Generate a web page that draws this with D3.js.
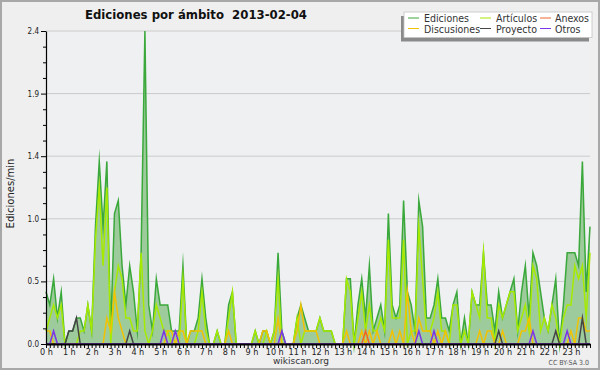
<!DOCTYPE html>
<html>
<head>
<meta charset="utf-8">
<script src="https://d3js.org/d3.v7.min.js"></script>
<style>
  body { margin: 0; background: #efefef; }
  svg text { font-family: "DejaVu Sans Condensed", "DejaVu Sans", sans-serif; font-stretch: condensed; }
</style>
</head>
<body>
<div id="chart"></div>
<script>
// one value per 10 minutes, from 0 h to 23 h 50 (edits per minute)
var stepMinutes = 10;

var ediciones = [
  0.4,0.3,0.5,0.2,0.4,0,0.1,0.1,0.2,0.2,0.1,0.3, 0.1,0.9,1.4,0.9,1.4,0.1,1.0,1.1,0.6,0.3,0.6,0.4,
  0.1,0.7,2.4,0.3,0.1,0.5,0.3,0.3,0.3,0.1,0.1,0.1, 0.6,0,0.1,0.1,0.2,0.5,0.2,0,0,0.1,0,0,
  0.3,0.4,0,0,0,0,0,0.1,0,0.1,0.1,0, 0.1,0.7,0.1,0,0,0,0.2,0.3,0.2,0.1,0.1,0.1,
  0.2,0.1,0.1,0.1,0,0,0,0.5,0.5,0,0.3,0.5, 0.2,0.6,0.1,0.2,0.3,0.1,1.0,0.3,0.2,0.3,1.1,0.4,
  0.3,0.1,1.1,0.9,0.2,0.2,0.3,0.5,0.2,0.2,0.1,0.3, 0.4,0,0.2,0,0.4,0.3,0.3,0.7,0.3,0.3,0.1,0.4,
  0.2,0.3,0.4,0.5,0.1,0.4,0.6,0.2,0.7,0.6,0.4,0.2, 0.1,0.3,0.5,0,0.3,0.7,0.7,0.7,0.6,1.4,0.4,0.9
];
var articulos = [
  0.1,0.2,0.3,0.2,0.3,0,0,0,0,0.1,0.1,0.3, 0.1,0.8,1.2,0.6,1.2,0,0.4,0.6,0.5,0.2,0.2,0.1,
  0.1,0.7,0.1,0,0.1,0.3,0.2,0.1,0.1,0,0,0, 0.5,0,0,0,0.1,0.4,0.1,0,0,0.1,0,0,
  0.2,0.4,0,0,0,0,0,0.1,0,0,0.1,0, 0.1,0.5,0,0,0,0,0.2,0,0.1,0.1,0.1,0.1,
  0.2,0.1,0.1,0.1,0,0,0,0.5,0.4,0,0.2,0.4, 0.1,0.3,0.1,0.1,0.2,0.1,0.8,0.2,0.2,0.2,0.8,0,
  0.1,0.1,0.9,0.5,0.1,0.1,0.2,0.4,0.1,0.1,0,0.3, 0.3,0,0.1,0,0.4,0.3,0.2,0.7,0.2,0.2,0,0.3,
  0.2,0.3,0.4,0.4,0.1,0.2,0.3,0.1,0.6,0.5,0.1,0.2, 0.1,0.3,0.2,0,0.2,0.3,0.3,0.6,0.5,0.6,0.2,0.7
];
var discusiones = [
  0.1,0.1,0,0,0,0,0,0,0,0,0,0, 0,0,0,0,0.2,0.1,0.4,0.2,0.1,0,0,0,
  0,0,0,0,0,0,0,0,0.1,0.1,0,0.1, 0.1,0,0.1,0.1,0.1,0.1,0,0,0,0,0,0,
  0.1,0,0,0,0,0,0,0,0,0.1,0.1,0, 0,0.2,0,0,0,0,0.1,0.3,0.1,0.1,0.1,0.1,
  0,0,0,0,0,0,0,0.1,0,0,0,0.1, 0,0.1,0,0.1,0,0,0,0.1,0,0.1,0,0.4,
  0.1,0,0.2,0.1,0.1,0.1,0,0.1,0,0.1,0,0, 0,0,0,0,0,0,0.1,0,0.1,0.1,0,0,
  0.1,0,0,0,0,0.1,0.1,0.2,0,0,0,0, 0,0,0,0,0,0,0.1,0,0.2,0.2,0.1,0.1
];
var anexos = [
  0,0,0,0,0,0,0,0,0,0,0,0, 0,0,0,0,0,0,0,0,0,0,0,0,
  0,0,0,0,0,0,0,0,0,0,0,0, 0,0,0,0,0,0,0,0,0,0,0,0,
  0,0,0,0,0,0,0,0,0,0,0,0, 0,0,0,0,0,0,0,0,0,0,0,0,
  0,0,0,0,0,0,0,0,0,0,0,0, 0.1,0,0,0,0,0,0,0,0,0,0,0,
  0,0,0,0,0,0,0,0,0,0,0,0, 0,0,0,0,0,0,0,0,0,0,0,0,
  0,0,0,0,0,0,0,0,0,0,0,0, 0,0,0,0,0,0,0,0,0,0,0,0
];
var proyecto = [
  0,0,0,0,0,0,0.1,0.1,0.2,0,0,0, 0,0,0,0,0,0,0,0,0,0,0.1,0,
  0,0,0,0,0,0,0,0,0,0,0,0, 0,0,0,0,0,0,0,0,0,0,0,0,
  0,0,0,0,0,0,0,0,0,0,0,0, 0,0,0,0,0,0,0,0,0,0,0,0,
  0,0,0,0,0,0,0,0,0,0,0,0, 0,0,0,0,0,0,0,0,0,0,0,0,
  0,0,0,0,0,0,0,0,0,0,0,0, 0,0,0,0,0,0,0,0,0,0,0,0.1,
  0,0,0,0,0,0,0,0,0,0,0,0, 0,0,0.1,0,0,0,0,0,0,0.2,0,0
];
var otros = [
  0,0,0.1,0,0,0,0,0,0,0,0,0, 0,0,0,0,0,0,0,0,0,0,0,0,
  0,0,0,0,0,0,0,0.1,0,0,0.1,0, 0,0,0,0,0,0,0,0,0,0,0,0,
  0,0,0,0,0,0,0,0,0,0,0,0, 0,0,0.1,0,0,0,0,0,0,0,0,0,
  0,0,0,0,0,0,0,0,0,0,0,0, 0,0,0,0,0,0,0,0,0,0,0,0,
  0,0,0.1,0,0,0,0.1,0,0,0,0,0, 0,0,0,0,0,0,0,0,0,0,0,0,
  0,0,0,0,0,0,0,0,0.1,0,0,0, 0,0,0,0,0,0.1,0,0,0,0,0,0
];

var hourLabels = ["0 h","1 h","2 h","3 h","4 h","5 h","6 h","7 h","8 h","9 h","10 h","11 h",
                  "12 h","13 h","14 h","15 h","16 h","17 h","18 h","19 h","20 h","21 h","22 h","23 h"];
var yTicks = [0, 0.48, 0.96, 1.44, 1.92, 2.4];
var yTickLabels = ["0.0", "0.5", "1.0", "1.4", "1.9", "2.4"];

// legend rows, in the order they are drawn in the box
var legendRow1 = ["Ediciones", "Artículos", "Anexos"];
var legendRow2 = ["Discusiones", "Proyecto", "Otros"];

var colors = {
  "Ediciones": "#3aa83a",
  "Artículos": "#a6ea00",
  "Discusiones": "#f2c200",
  "Anexos": "#f0642a",
  "Proyecto": "#454545",
  "Otros": "#7a35e8"
};

// set the dimensions and margins of the graph
var margin = {top: 31, right: 10, bottom: 26, left: 46},
    width = 600 - margin.left - margin.right,
    height = 370 - margin.top - margin.bottom;

var svg = d3.select("#chart")
  .append("svg")
    .attr("width", 600)
    .attr("height", 370);

// background and frame
svg.append("rect")
  .attr("x", 1).attr("y", 1)
  .attr("width", 598).attr("height", 368)
  .attr("fill", "#efefef")
  .attr("stroke", "#a8a8a8")
  .attr("stroke-width", 2);

var g = svg.append("g")
  .attr("transform", "translate(" + margin.left + "," + margin.top + ")");

g.append("rect")
  .attr("width", width)
  .attr("height", height)
  .attr("fill", "#eef0f2");

var x = d3.scaleLinear()
  .domain([0, (ediciones.length - 1) * stepMinutes])
  .range([0, width]);

var y = d3.scaleLinear()
  .domain([0, 2.4])
  .range([height, 0]);

// horizontal grid lines
g.selectAll(".grid")
  .data(yTicks.slice(1))
  .enter().append("line")
    .attr("x1", 0).attr("x2", width)
    .attr("y1", function(d) { return y(d); })
    .attr("y2", function(d) { return y(d); })
    .attr("stroke", "#cbcbcb");

function toPoints(values) {
  return values.map(function(v, i) { return {t: i * stepMinutes, v: v}; });
}

var line = d3.line()
  .x(function(d) { return x(d.t); })
  .y(function(d) { return y(d.v); });

var area = d3.area()
  .x(function(d) { return x(d.t); })
  .y0(y(0))
  .y1(function(d) { return y(d.v); });

// filled area for all edits
g.append("path")
  .datum(toPoints(ediciones))
  .attr("fill", "#9ecb9c")
  .attr("d", area);

var drawOrder = [
  ["Ediciones", ediciones],
  ["Artículos", articulos],
  ["Discusiones", discusiones],
  ["Anexos", anexos],
  ["Proyecto", proyecto],
  ["Otros", otros]
];

drawOrder.forEach(function(s) {
  g.append("path")
    .datum(toPoints(s[1]))
    .attr("fill", "none")
    .attr("stroke", colors[s[0]])
    .attr("stroke-width", 1.5)
    .attr("stroke-linejoin", "miter")
    .attr("stroke-miterlimit", 20)
    .attr("d", line);
});

// Add X axis: small tick every 10 minutes, label every hour
var minuteTicks = ediciones.map(function(v, i) { return i * stepMinutes; });
var xMinor = g.append("g")
  .attr("transform", "translate(0," + height + ")")
  .call(d3.axisBottom(x).tickValues(minuteTicks).tickSize(4).tickSizeOuter(0).tickFormat(""));
xMinor.select(".domain").attr("stroke", "#000").attr("stroke-width", 2);
xMinor.selectAll(".tick line").attr("stroke", "#000");

var xLabels = g.append("g")
  .attr("transform", "translate(0," + height + ")")
  .call(d3.axisBottom(x)
    .tickValues(hourLabels.map(function(l, i) { return i * 60; }))
    .tickFormat(function(d, i) { return hourLabels[i]; })
    .tickSize(0)
    .tickPadding(5));
xLabels.select(".domain").remove();
xLabels.selectAll("text")
  .attr("font-size", 9)
  .attr("fill", "#222")
  .style("font-stretch", "normal")
  .attr("font-family", "DejaVu Sans");

// Add Y axis
var yMinorTicks = d3.range(1, 20).map(function(k) { return k * 0.12; })
  .filter(function(v, k) { return (k + 1) % 4 !== 0; });
var yMinor = g.append("g")
  .call(d3.axisLeft(y).tickValues(yMinorTicks).tickSize(3).tickSizeOuter(0).tickFormat(""));
yMinor.select(".domain").remove();
yMinor.selectAll(".tick line").attr("stroke", "#000");

var yAxis = g.append("g")
  .call(d3.axisLeft(y)
    .tickValues(yTicks)
    .tickFormat(function(d, i) { return yTickLabels[i]; })
    .tickSize(5)
    .tickSizeOuter(0)
    .tickPadding(2));
yAxis.select(".domain").attr("stroke", "#000").attr("stroke-width", 1.2);
yAxis.selectAll(".tick line").attr("stroke", "#000");
yAxis.selectAll("text")
  .attr("font-size", 8)
  .attr("fill", "#222")
  .style("font-stretch", "normal")
  .attr("font-family", "DejaVu Sans");

// y axis title
svg.append("text")
  .attr("transform", "translate(14," + (margin.top + height / 2 + 6) + ") rotate(-90)")
  .attr("text-anchor", "middle")
  .attr("font-size", 10)
  .attr("fill", "#222")
  .style("font-stretch", "normal")
  .style("font-family", "DejaVu Sans")
  .text("Ediciones/min");

// title
svg.append("text")
  .attr("x", 85)
  .attr("y", 19)
  .attr("font-size", 13)
  .attr("font-weight", "bold")
  .attr("fill", "#111")
  .style("white-space", "pre")
  .text("Ediciones por ámbito  2013-02-04");

// legend box with its shadow
var legend = svg.append("g");
legend.append("rect")
  .attr("x", 401).attr("y", 16)
  .attr("width", 188).attr("height", 25.5)
  .attr("fill", "#8a8a8a");
legend.append("rect")
  .attr("x", 404).attr("y", 12)
  .attr("width", 188).attr("height", 25.5)
  .attr("fill", "#ffffff")
  .attr("stroke", "#c4c4c4")
  .attr("stroke-width", 0.8);

var colX = [408, 480, 540];
var textX = [424, 496, 555];
[legendRow1, legendRow2].forEach(function(row, r) {
  row.forEach(function(name, c) {
    legend.append("line")
      .attr("x1", colX[c]).attr("x2", colX[c] + 11)
      .attr("y1", 18 + r * 10.5).attr("y2", 18 + r * 10.5)
      .attr("stroke", colors[name])
      .attr("stroke-width", 1);
    legend.append("text")
      .attr("x", textX[c])
      .attr("y", 22 + r * 10.5)
      .attr("font-size", 10.5)
      .attr("fill", "#333")
      .text(name);
  });
});

// footer
svg.append("text")
  .attr("x", 301).attr("y", 364)
  .attr("text-anchor", "middle")
  .attr("font-size", 9)
  .attr("fill", "#333")
  .style("font-stretch", "normal")
  .style("font-family", "DejaVu Sans")
  .text("wikiscan.org");

svg.append("text")
  .attr("x", 589).attr("y", 365)
  .attr("text-anchor", "end")
  .attr("font-size", 7)
  .attr("fill", "#555")
  .text("CC BY-SA 3.0");
</script>
</body>
</html>
